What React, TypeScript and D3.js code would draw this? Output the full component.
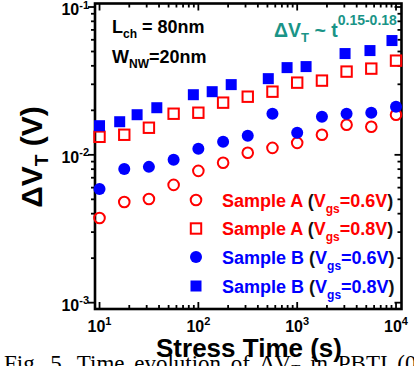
import * as d3 from 'd3';
import React from 'react';

const timesQuarter = [10, 17.8, 31.6, 56.2, 100, 178, 316, 562, 1000, 1780, 3160, 5620, 10000];
const timesB08 = [10, 16, 24, 38, 89, 138, 215, 510, 790, 1230, 3050, 5450, 9100];
const sampleA06 = [0.00374, 0.0048, 0.00503, 0.00626, 0.00779, 0.00883, 0.01032, 0.01115, 0.01205, 0.01367, 0.01596, 0.01548, 0.01868];
const sampleA08 = [0.01324, 0.01367, 0.01525, 0.01897, 0.01927, 0.02254, 0.02473, 0.02674, 0.03078, 0.03177, 0.03656, 0.0383, 0.04335];
const sampleB06 = [0.00588, 0.00803, 0.00829, 0.00925, 0.01099, 0.01226, 0.01345, 0.01897, 0.0141, 0.01812, 0.01897, 0.01927, 0.02115];
const sampleB08 = [0.01574, 0.01675, 0.01868, 0.02083, 0.02551, 0.02674, 0.02985, 0.03276, 0.0389, 0.03953, 0.04842, 0.05073, 0.0593];
const xTickExps = [1, 2, 3, 4];
const yTickExps = [-1, -2, -3];
const legendLabels = ['Sample A', 'Sample A', 'Sample B', 'Sample B'];
const legendVgs = ['0.6V', '0.8V', '0.6V', '0.8V'];

const W = 414, H = 366;
const L = 95, R = 401.5, T = 3.5, B = 309;
const FONT = 'Arial, "Liberation Sans", Helvetica, sans-serif';
const RED = '#ff0000';
const BLUE = '#0000ff';
const TEAL = '#1a9487';

function Marker({ kind, x, y }: { kind: string; x: number; y: number }) {
  if (kind === 'oc') return <circle cx={x} cy={y} r={5.3} fill="none" stroke={RED} strokeWidth={2} />;
  if (kind === 'os') return <rect x={x - 5.2} y={y - 5.2} width={10.4} height={10.4} fill="none" stroke={RED} strokeWidth={2} />;
  if (kind === 'fc') return <circle cx={x} cy={y} r={6} fill={BLUE} />;
  return <rect x={x - 5.5} y={y - 5.5} width={11} height={11} fill={BLUE} />;
}

export default function App() {
  const x = d3.scaleLog().domain([9, 11360]).range([L, R]);
  const y = d3.scaleLog().domain([0.000906, 0.1056]).range([B, T]);

  const xTicks: { v: number; major: boolean }[] = [];
  for (let d = 0; d <= 4; d++) for (let m = 1; m <= 9; m++) {
    const v = m * Math.pow(10, d);
    if (v >= 9 && v <= 11360) xTicks.push({ v, major: m === 1 });
  }
  const yTicks: { v: number; major: boolean }[] = [];
  for (let d = -4; d <= -1; d++) for (let m = 1; m <= 9; m++) {
    const v = m * Math.pow(10, d);
    if (v >= 0.000906 && v <= 0.1056) yTicks.push({ v, major: m === 1 });
  }

  const series = [
    { kind: 'oc', t: timesQuarter, v: sampleA06 },
    { kind: 'os', t: timesQuarter, v: sampleA08 },
    { kind: 'fc', t: timesQuarter, v: sampleB06 },
    { kind: 'fs', t: timesB08, v: sampleB08 },
  ];
  const kinds = ['oc', 'os', 'fc', 'fs'];
  const legendY = [200, 228.5, 257, 286];

  return (
    <svg width={W} height={H} style={{ position: 'absolute', left: 0, top: 0, background: '#fff' }} fontFamily={FONT}>
      <rect x={0} y={0} width={W} height={H} fill="#fff" />
      {/* ticks */}
      {xTicks.map((t, i) => {
        const len = t.major ? 7 : 4;
        const px = x(t.v);
        return (
          <g key={'xt' + i} stroke="#000" strokeWidth={1.8}>
            <line x1={px} x2={px} y1={B} y2={B - len} />
            <line x1={px} x2={px} y1={T} y2={T + len} />
          </g>
        );
      })}
      {yTicks.map((t, i) => {
        const len = t.major ? 7 : 4;
        const py = y(t.v);
        return (
          <g key={'yt' + i} stroke="#000" strokeWidth={1.8}>
            <line x1={L} x2={L - len} y1={py} y2={py} />
            <line x1={R} x2={R - len} y1={py} y2={py} />
          </g>
        );
      })}
      <rect x={L} y={T} width={R - L} height={B - T} fill="none" stroke="#000" strokeWidth={2.6} />
      {/* tick labels */}
      {xTickExps.map((e) => (
        <text key={'xl' + e} x={x(Math.pow(10, e))} y={332} textAnchor="middle" fontWeight="bold" fontSize={16}>
          10<tspan fontSize={11} dy={-7}>{e}</tspan>
        </text>
      ))}
      {yTickExps.map((e) => (
        <text key={'yl' + e} x={89} y={y(Math.pow(10, e)) + 8.5} textAnchor="end" fontWeight="bold" fontSize={16}>
          10<tspan fontSize={11} dy={-7}>{'-' + Math.abs(e)}</tspan>
        </text>
      ))}
      {/* data */}
      {series.map((s, si) => s.v.map((v, i) => (
        <Marker key={si + '-' + i} kind={s.kind} x={x(s.t[i])} y={y(v)} />
      )))}
      {/* annotations */}
      <text x={112} y={33} fontWeight="bold" fontSize={18}>
        L<tspan fontSize={12} dy={5}>ch</tspan><tspan dy={-5}> = 80nm</tspan>
      </text>
      <text x={112} y={63} fontWeight="bold" fontSize={18}>
        W<tspan fontSize={12} dy={5}>NW</tspan><tspan dy={-5}>=20nm</tspan>
      </text>
      <text x={274} y={37} fontWeight="bold" fontSize={19.5} fill={TEAL}>
        ΔV<tspan fontSize={13} dy={5}>T</tspan><tspan dy={-5}> ~ t</tspan><tspan fontSize={14} dy={-12}>0.15-0.18</tspan>
      </text>
      {/* legend */}
      {kinds.map((k, i) => {
        const col = i < 2 ? RED : BLUE;
        return (
          <g key={'lg' + i}>
            <Marker kind={k} x={196} y={legendY[i]} />
            <text x={222} y={legendY[i] + 6.5} fontWeight="bold" fontSize={18} fill={col}>
              {legendLabels[i] + ' '}<tspan fill="#111">(</tspan>V<tspan fontSize={12} dy={6}>gs</tspan><tspan dy={-6}>={legendVgs[i]}</tspan><tspan fill="#111">)</tspan>
            </text>
          </g>
        );
      })}
      {/* caption (partially visible) */}
      <text x={4} y={371} fontFamily='"Liberation Serif", "Times New Roman", serif' fontSize={23} wordSpacing={4}>
        Fig. 5. Time evolution of ΔV<tspan fontSize={15} dy={4}>T</tspan><tspan dy={-4}> in PBTI (0.1</tspan>
      </text>
      {/* axis titles */}
      <text x={249} y={357} textAnchor="middle" fontWeight="bold" fontSize={26}>Stress Time (s)</text>
      <text transform="translate(42,157) rotate(-90)" textAnchor="middle" fontWeight="bold" fontSize={30}>
        ΔV<tspan fontSize={19} dy={6}>T</tspan><tspan dy={-6}> (V)</tspan>
      </text>
    </svg>
  );
}
